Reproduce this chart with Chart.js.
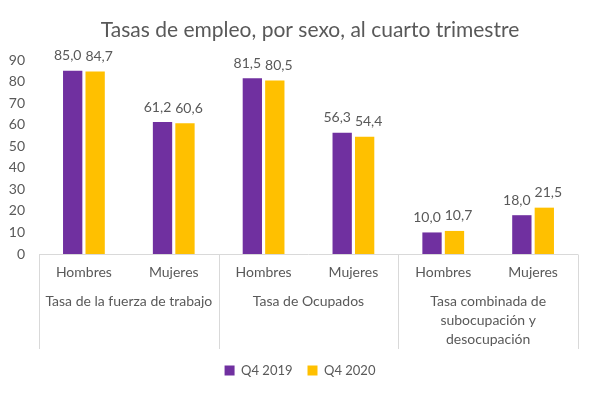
<!DOCTYPE html>
<html>
<head>
<meta charset="utf-8">
<script src="https://cdn.jsdelivr.net/npm/chart.js@4.4.1/dist/chart.umd.min.js"></script>
<style>
  html, body { margin: 0; padding: 0; background: #fff; }
  #wrap { width: 600px; height: 395px; }
</style>
</head>
<body>
<div id="wrap"><canvas id="empleo"></canvas></div>
<script>
// data
var sexos = ["Hombres", "Mujeres", "Hombres", "Mujeres", "Hombres", "Mujeres"];
var grupos = [
    ["Tasa de la fuerza de trabajo"],
    ["Tasa de Ocupados"],
    ["Tasa combinada de", "subocupación y", "desocupación"]
];
var q42019 = [85.0, 61.2, 81.5, 56.3, 10.0, 18.0];
var q42020 = [84.7, 60.6, 80.5, 54.4, 10.7, 21.5];
var yTicks = [0, 10, 20, 30, 40, 50, 60, 70, 80, 90];
var titulo = 'Tasas de empleo, por sexo, al cuarto trimestre';

var gris = '#595959';
var linea = '#d9d9d9';
var fuente = 'Lato, "Noto Sans", sans-serif';

// title, drawn a bit right of centre like the original
var cabecera = {
    id: 'cabecera',
    afterDraw: function(chart) {
        var ctx = chart.ctx;
        ctx.save();
        ctx.font = '21px ' + fuente;
        ctx.fillStyle = gris;
        ctx.textAlign = 'center';
        ctx.textBaseline = 'middle';
        ctx.fillText(titulo, chart.width / 2 + 10, 30);
        ctx.restore();
    }
};

// let the y labels spill into the left padding instead of being clipped
var ejeY = {
    id: 'ejeY',
    afterLayout: function(chart) {
        chart.scales.y.left = 0;
    }
};

// value labels above the bars, with comma decimals
var etiquetas = {
    id: 'etiquetas',
    afterDatasetsDraw: function(chart) {
        var ctx = chart.ctx;
        ctx.save();
        ctx.font = '14px ' + fuente;
        ctx.fillStyle = gris;
        ctx.textAlign = 'center';
        ctx.textBaseline = 'bottom';
        chart.data.datasets.forEach(function(ds, di) {
            var meta = chart.getDatasetMeta(di);
            meta.data.forEach(function(bar, i) {
                var txt = ds.data[i].toFixed(1).replace('.', ',');
                var dx = di === 0 ? -5 : 4;
                ctx.fillText(txt, bar.x + dx, bar.y - 8);
            });
        });
        ctx.restore();
    }
};

// second level of the category axis: group names and box lines
var cajas = {
    id: 'cajas',
    afterDraw: function(chart) {
        var x = chart.scales.x;
        var ctx = chart.ctx;
        var top = Math.round(x.top) + 0.5;
        var bottom = x.bottom;
        var bordes = [chart.chartArea.left];
        for (var i = 2; i < sexos.length; i += 2) {
            bordes.push((x.getPixelForValue(i - 1) + x.getPixelForValue(i)) / 2);
        }
        bordes.push(chart.chartArea.right);
        ctx.save();
        ctx.strokeStyle = linea;
        ctx.lineWidth = 1;
        ctx.beginPath();
        ctx.moveTo(bordes[0], top);
        ctx.lineTo(bordes[bordes.length - 1], top);
        bordes.forEach(function(b) {
            var px = Math.round(b) + 0.5;
            ctx.moveTo(px, top);
            ctx.lineTo(px, bottom);
        });
        ctx.stroke();

        ctx.font = '14px ' + fuente;
        ctx.fillStyle = gris;
        ctx.textAlign = 'center';
        ctx.textBaseline = 'middle';
        grupos.forEach(function(lineas, g) {
            var cx = (x.getPixelForValue(g * 2) + x.getPixelForValue(g * 2 + 1)) / 2;
            lineas.forEach(function(t, k) {
                ctx.fillText(t, cx, x.top + 47 + k * 19);
            });
        });
        ctx.restore();
    }
};

var ctx = document.getElementById('empleo');
new Chart(ctx, {
    type: 'bar',
    data: {
        labels: sexos,
        datasets: [{
            label: 'Q4 2019',
            data: q42019,
            backgroundColor: '#7030A0',
            categoryPercentage: 0.5,
            barPercentage: 0.86
        }, {
            label: 'Q4 2020',
            data: q42020,
            backgroundColor: '#FFC000',
            categoryPercentage: 0.5,
            barPercentage: 0.86
        }]
    },
    options: {
        responsive: true,
        maintainAspectRatio: false,
        animation: false,
        layout: {
            padding: { left: 22, right: 22, top: 60, bottom: 8 }
        },
        scales: {
            y: {
                min: 0,
                max: 90,
                afterBuildTicks: function(axis) {
                    axis.ticks = yTicks.map(function(v) { return { value: v }; });
                },
                afterFit: function(axis) {
                    axis.width = 17;
                },
                grid: { display: false, drawTicks: false },
                border: { display: false },
                ticks: {
                    color: gris,
                    font: { size: 14, family: fuente },
                    padding: 14,
                    autoSkip: false
                }
            },
            x: {
                afterFit: function(axis) {
                    axis.height = 95;
                },
                grid: { display: false, drawTicks: false },
                border: { display: false },
                ticks: {
                    color: gris,
                    font: { size: 14, family: fuente },
                    padding: 10
                }
            }
        },
        plugins: {
            title: { display: false },
            legend: {
                position: 'bottom',
                labels: {
                    color: gris,
                    font: { size: 13, family: fuente },
                    boxWidth: 10,
                    boxHeight: 10,
                    padding: 15
                }
            },
            tooltip: { enabled: false }
        }
    },
    plugins: [cabecera, ejeY, etiquetas, cajas]
});
</script>
</body>
</html>
